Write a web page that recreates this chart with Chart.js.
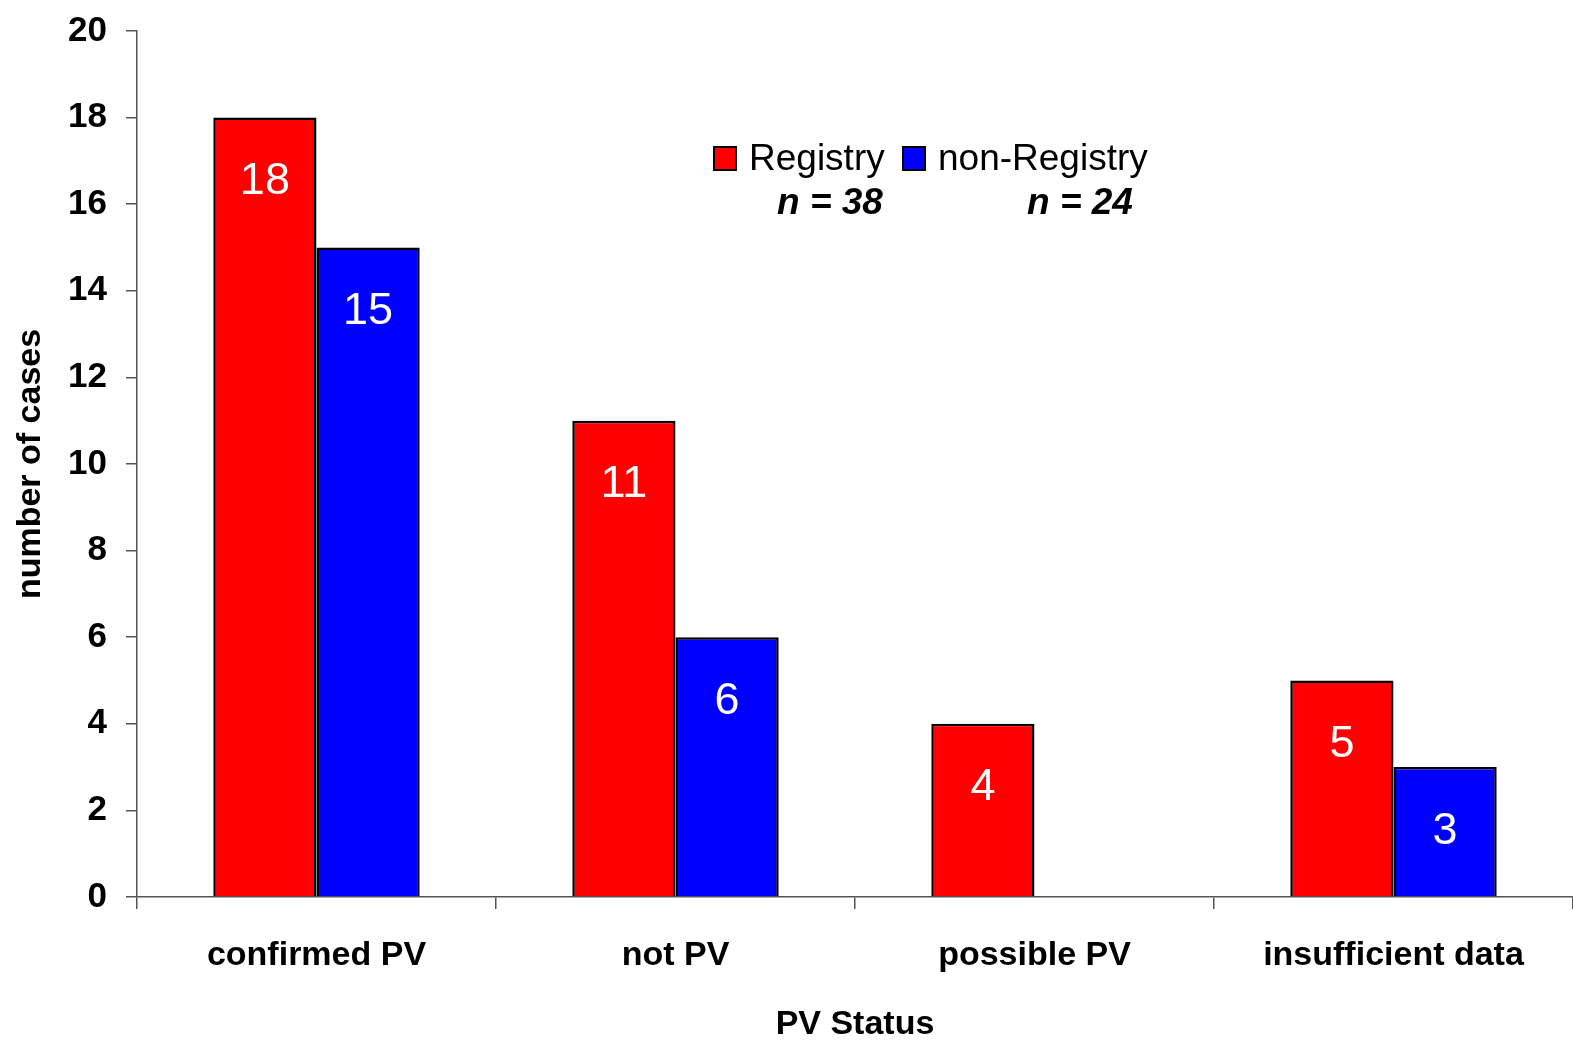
<!DOCTYPE html>
<html>
<head>
<meta charset="utf-8">
<script src="https://cdn.jsdelivr.net/npm/chart.js@4.4.1/dist/chart.umd.min.js"></script>
<style>
  html, body { margin: 0; padding: 0; background: #fff; overflow: hidden; }
  canvas { display: block; }
</style>
</head>
<body>
<canvas id="pvChart" width="1573" height="1041"></canvas>
<script>
// data
const CATEGORIES   = ['confirmed PV', 'not PV', 'possible PV', 'insufficient data'];
const REGISTRY     = [18, 11, 4, 5];
const NON_REGISTRY = [15, 6, null, 3];
const SERIES_NAMES = ['Registry', 'non-Registry'];
const SERIES_N     = ['n = 38', 'n = 24'];
const Y_TICKS      = [0, 2, 4, 6, 8, 10, 12, 14, 16, 18, 20];

const RED = '#ff0000', BLUE = '#0000ff', AXIS = '#555';
const FONT = '"Liberation Sans", Arial, sans-serif';

// drop the label overhang padding so the plot box sits where the reference has it
const noPad = s => { s.paddingTop = 0; s.paddingBottom = 0; s.paddingLeft = 0; s.paddingRight = 0; };

// white value labels inside the top of each bar
const barLabels = {
  id: 'barLabels',
  afterDatasetsDraw(chart) {
    const ctx = chart.ctx;
    ctx.save();
    ctx.fillStyle = '#fff';
    ctx.font = '45px ' + FONT;
    ctx.textAlign = 'center';
    ctx.textBaseline = 'middle';
    chart.data.datasets.forEach((ds, di) => {
      chart.getDatasetMeta(di).data.forEach((bar, i) => {
        const val = ds.data[i];
        if (val == null) return;
        ctx.fillText(String(val), bar.x, bar.y + 64);
      });
    });
    ctx.restore();
  }
};

// legend with the n = counts underneath
const pvLegend = {
  id: 'pvLegend',
  afterDraw(chart) {
    const ctx = chart.ctx;
    const items = [
      { x: 714, color: RED,  name: SERIES_NAMES[0], n: SERIES_N[0], nx: 777 },
      { x: 903, color: BLUE, name: SERIES_NAMES[1], n: SERIES_N[1], nx: 1027 }
    ];
    ctx.save();
    items.forEach(it => {
      ctx.fillStyle = it.color;
      ctx.fillRect(it.x, 147, 22, 23);
      ctx.strokeStyle = '#000';
      ctx.lineWidth = 2;
      ctx.strokeRect(it.x, 147, 22, 23);
      ctx.fillStyle = '#000';
      ctx.textAlign = 'left';
      ctx.textBaseline = 'middle';
      ctx.font = '37px ' + FONT;
      ctx.fillText(it.name, it.x + 35, 160);
      ctx.font = 'italic bold 37px ' + FONT;
      ctx.fillText(it.n, it.nx, 204);
    });
    ctx.restore();
  }
};

new Chart(document.getElementById('pvChart'), {
  type: 'bar',
  data: {
    labels: CATEGORIES,
    datasets: [
      { label: SERIES_NAMES[0], data: REGISTRY, backgroundColor: RED, borderColor: '#000', borderWidth: 2.5 },
      { label: SERIES_NAMES[1], data: NON_REGISTRY, backgroundColor: BLUE, borderColor: '#000', borderWidth: 2.5 }
    ]
  },
  options: {
    responsive: false,
    animation: false,
    devicePixelRatio: 1,
    layout: { padding: { left: 0, right: -4, top: 31, bottom: 0 } },
    datasets: { bar: { barPercentage: 1, categoryPercentage: 0.575 } },
    plugins: {
      legend: { display: false },
      tooltip: { enabled: false }
    },
    scales: {
      x: {
        grid: { drawOnChartArea: false, offset: true, tickLength: 12, color: AXIS, lineWidth: 1.5 },
        border: { color: AXIS, width: 1.5 },
        ticks: { color: '#000', font: { family: FONT, size: 34, weight: 'bold' }, padding: 26, maxRotation: 0 },
        title: { display: true, text: 'PV Status', color: '#000', font: { family: FONT, size: 34, weight: 'bold' }, padding: { top: 0, bottom: -4 } },
        afterFit: s => { s.height = 144; noPad(s); }
      },
      y: {
        min: 0, max: 20,
        afterBuildTicks: s => { s.ticks = Y_TICKS.map(v => ({ value: v })); },
        grid: { drawOnChartArea: false, tickLength: 11, color: AXIS, lineWidth: 1.5 },
        border: { color: AXIS, width: 1.5 },
        ticks: { color: '#000', font: { family: FONT, size: 35, weight: 'bold' }, padding: 19 },
        title: { display: true, text: 'number of cases', color: '#000', font: { family: FONT, size: 34, weight: 'bold' }, padding: { top: 10, bottom: 0 } },
        afterFit: s => { s.width = 137; noPad(s); }
      }
    }
  },
  plugins: [barLabels, pvLegend]
});
</script>
</body>
</html>
